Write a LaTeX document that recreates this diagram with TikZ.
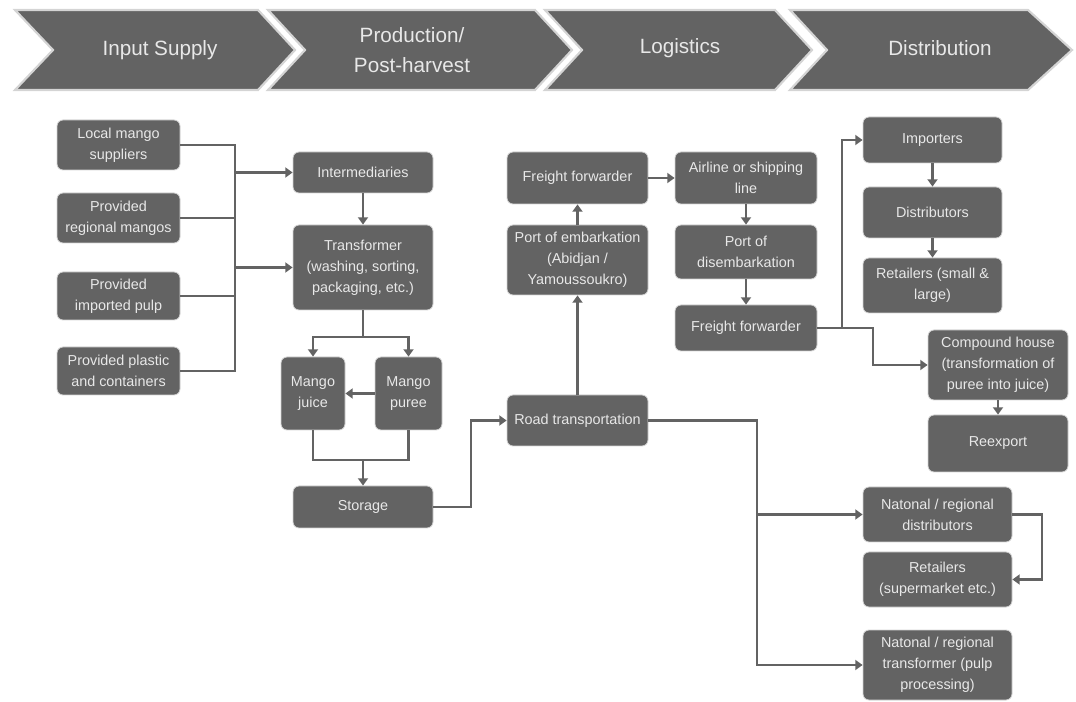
\documentclass[tikz,border=0pt]{standalone}
\usepackage{fontspec}
\setmainfont{Liberation Sans}
\usetikzlibrary{arrows.meta}
\definecolor{boxgray}{HTML}{636363}
\definecolor{txtgray}{HTML}{E8E8E8}
\definecolor{edgegray}{HTML}{D4D4D4}
\tikzset{
  box/.style={draw=edgegray, line width=0.6pt, fill=boxgray, rounded corners=4.5pt,
    text=txtgray, align=center, inner sep=1pt,
    font=\fontsize{10.8}{15.8}\selectfont},
  ln/.style={draw=boxgray, line width=1.9pt},
  arr/.style={ln, -{Triangle[width=7.5pt,length=5.5pt]}},
  chev/.style={fill=boxgray, draw=edgegray, line width=1.6pt, line join=miter},
  htxt/.style={text=txtgray, align=center, font=\fontsize{15.5}{23}\selectfont}
}
\newcommand{\bx}[6]{\node[box, minimum width={(#4-#2)*0.75pt}, minimum height={(#5-#3)*0.75pt}] (#1) at ({(#2+#4)/2},{(#3+#5)/2}) {#6};}
\begin{document}
\begin{tikzpicture}[x=0.75pt,y=-0.75pt]
\useasboundingbox (0,0) rectangle (1076,702);
% header chevrons
\draw[chev] (15,10) -- (258,10) -- (295,50) -- (258,90) -- (15,90) -- (53,50) -- cycle;
\draw[chev] (268,10) -- (535,10) -- (572,50) -- (535,90) -- (268,90) -- (305,50) -- cycle;
\draw[chev] (545,10) -- (775,10) -- (812,50) -- (775,90) -- (545,90) -- (582,50) -- cycle;
\draw[chev] (790,10) -- (1028,10) -- (1072,50) -- (1028,90) -- (790,90) -- (827,50) -- cycle;
\node[htxt] (h1) at (160,50) {Input Supply};
\node[htxt] (h2) at (412,50) {Production/\\Post-harvest};
\node[htxt] (h3) at (680,48) {Logistics};
\node[htxt] (h4) at (940,48) {Distribution};
% input supply
\bx{local}{57}{120}{180}{170}{Local mango\\suppliers}
\bx{regional}{57}{193}{180}{243}{Provided\\regional mangos}
\bx{pulp}{57}{272}{180}{320}{Provided\\imported pulp}
\bx{plastic}{57}{347}{180}{395}{Provided plastic\\and containers}
% production
\bx{inter}{293}{152}{433}{193}{Intermediaries}
\bx{trans}{293}{225}{433}{310}{Transformer\\(washing, sorting,\\packaging, etc.)}
\bx{juice}{281}{357}{345}{430}{Mango\\juice}
\bx{puree}{375}{357}{442}{430}{Mango\\puree}
\bx{storage}{293}{486}{433}{528}{Storage}
% logistics
\bx{road}{507}{395}{648}{446}{Road transportation}
\bx{portemb}{507}{225}{648}{295}{Port of embarkation\\(Abidjan /\\Yamoussoukro)}
\bx{ffa}{507}{152}{648}{204}{Freight forwarder}
\bx{airline}{675}{152}{817}{204}{Airline or shipping\\line}
\bx{portdis}{675}{225}{817}{279}{Port of\\disembarkation}
\bx{ffb}{675}{305}{817}{351}{Freight forwarder}
% distribution
\bx{importers}{863}{117}{1002}{163}{Importers}
\bx{distrib}{863}{187}{1002}{238}{Distributors}
\bx{retail}{863}{258}{1002}{313}{Retailers (small \&\\large)}
\bx{compound}{928}{330}{1068}{400}{Compound house\\(transformation of\\puree into juice)}
\bx{reexport}{928}{415}{1068}{472}{Reexport}
\bx{ndist}{863}{487}{1012}{542}{Natonal / regional\\distributors}
\bx{nret}{863}{552}{1012}{607}{Retailers\\(supermarket etc.)}
\bx{ntrans}{863}{630}{1012}{700}{Natonal / regional\\transformer (pulp\\processing)}
% coordinates
\coordinate (busT) at (235,145);
\coordinate (busB) at (235,371);
\coordinate (busI) at (235,172.5);
\coordinate (busTr) at (235,267.5);
\coordinate (split) at (363,337);
\coordinate (splitL) at (313,337);
\coordinate (splitR) at (408.5,337);
\coordinate (joinL) at (313,460);
\coordinate (joinR) at (408.5,460);
\coordinate (joinM) at (363,460);
\coordinate (stA) at (471,507);
\coordinate (stB) at (471,420.5);
\coordinate (fA) at (842,328);
\coordinate (fB) at (842,140);
\coordinate (fC) at (873,328);
\coordinate (fD) at (873,365);
\coordinate (rA) at (757,420.5);
\coordinate (rB) at (757,665);
\coordinate (rC) at (757,514.5);
\coordinate (nA) at (1042,514.5);
\coordinate (nB) at (1042,579.5);
% connectors: input supply
\draw[ln] (local.east) -- (busT) -- (busB) -- (plastic.east);
\draw[ln] (regional.east) -- (regional.east -| busT);
\draw[ln] (pulp.east) -- (pulp.east -| busT);
\draw[arr] (busI) -- (inter.west);
\draw[arr] (busTr) -- (trans.west);
% production
\draw[arr] (inter.south) -- (trans.north);
\draw[ln] (trans.south) -- (split);
\draw[arr] (split) -- (splitL) -- (juice.north);
\draw[arr] (split) -- (splitR) -- (puree.north);
\draw[arr] (puree.west) -- (juice.east);
\draw[ln] (juice.south) -- (joinL) -- (joinR) -- (puree.south);
\draw[arr] (joinM) -- (storage.north);
\draw[arr] (storage.east) -- (stA) -- (stB) -- (road.west);
% logistics
\draw[arr] (road.north) -- (portemb.south);
\draw[arr] (portemb.north) -- (ffa.south);
\draw[arr] (ffa.east) -- (airline.west);
\draw[arr] (airline.south) -- (portdis.north);
\draw[arr] (portdis.south) -- (ffb.north);
% distribution
\draw[arr] (ffb.east) -- (fA) -- (fB) -- (importers.west);
\draw[arr] (fA) -- (fC) -- (fD) -- (compound.west);
\draw[arr] (importers.south) -- (distrib.north);
\draw[arr] (distrib.south) -- (retail.north);
\draw[arr] (compound.south) -- (reexport.north);
\draw[arr] (road.east) -- (rA) -- (rB) -- (ntrans.west);
\draw[arr] (rC) -- (ndist.west);
\draw[arr] (ndist.east) -- (nA) -- (nB) -- (nret.east);
\end{tikzpicture}
\end{document}
